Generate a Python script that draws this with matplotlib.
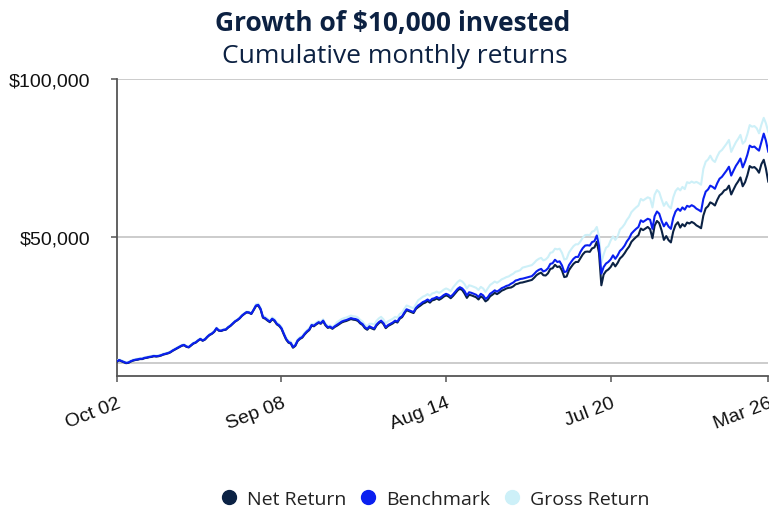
import numpy as np
import pandas as pd
import matplotlib
matplotlib.use("Agg")
import matplotlib.pyplot as plt
from matplotlib.lines import Line2D
from matplotlib.ticker import FuncFormatter

# monthly values in $ thousands, Oct 2002 .. Mar 2026
benchmark = [
    10.5, 10.9, 10.6,
    10.3, 10.0, 10.1, 10.5, 10.8, 11.0, 11.1, 11.3, 11.3, 11.6, 11.7, 11.9,
    12.0, 12.2, 12.1, 12.2, 12.4, 12.7, 12.9, 13.1, 13.4, 13.9, 14.3, 14.7,
    15.1, 15.5, 15.7, 15.2, 15.0, 15.6, 16.2, 16.5, 17.1, 17.6, 17.1, 17.5,
    18.3, 18.9, 19.3, 19.9, 21.0, 20.3, 20.2, 20.5, 20.6, 21.3, 21.8, 22.5,
    23.2, 23.6, 24.2, 25.0, 25.6, 26.1, 26.0, 25.6, 26.8, 28.2, 28.4, 27.1,
    24.5, 24.2, 23.6, 23.1, 24.0, 23.5, 22.4, 21.9, 21.0, 19.2, 17.6, 16.6,
    16.3, 15.0, 15.6, 17.1, 17.8, 18.2, 19.2, 20.0, 20.6, 22.0, 21.8, 22.4,
    22.9, 22.6, 23.4, 22.1, 21.3, 21.5, 21.0, 21.6, 22.1, 22.6, 23.1, 23.4,
    23.6, 23.9, 24.2, 24.0, 23.9, 23.6, 22.8, 22.3, 21.3, 20.8, 21.6, 21.2,
    20.9, 22.1, 22.9, 23.4, 22.6, 21.3, 22.0, 22.4, 22.8, 23.4, 23.1, 24.3,
    24.8, 25.9, 27.0, 26.7, 26.4, 26.1, 27.4, 28.2, 28.7, 29.3, 29.6, 30.1,
    29.6, 30.3, 30.5, 30.9, 30.5, 30.9, 31.5, 31.9, 31.6, 31.0, 31.7, 32.6,
    33.5, 34.0, 33.6, 32.8, 31.4, 32.4, 32.2, 31.9, 31.6, 30.9, 31.9, 31.4,
    30.3, 30.8, 31.9, 32.4, 33.0, 32.6, 33.1, 33.7, 34.0, 34.4, 34.6, 35.1,
    35.5, 36.1, 36.3, 36.6, 36.7, 36.9, 37.1, 37.3, 37.5, 38.2, 39.0, 39.5,
    39.8, 39.0, 39.3, 40.0, 41.4, 41.6, 42.7, 42.0, 42.2, 40.9, 38.8, 39.0,
    41.0, 42.0, 43.0, 43.6, 43.6, 45.2, 46.4, 47.2, 47.3, 47.2, 48.3, 48.6,
    50.4, 47.2, 38.3, 40.4, 41.5, 42.0, 42.8, 44.1, 43.0, 44.1, 45.5, 46.2,
    47.2, 48.5, 49.5, 51.0, 51.8, 52.5, 53.1, 55.2, 54.7, 55.2, 55.7, 55.4,
    52.5, 56.5, 58.0, 57.3, 55.0, 53.3, 54.5, 53.2, 52.5, 56.0, 58.0, 58.9,
    58.2, 59.3, 58.6, 59.8, 59.5, 60.0, 59.6, 58.9, 58.5, 58.0, 62.0, 64.3,
    65.0, 66.2, 65.8, 65.2, 67.0, 68.4, 69.0, 70.0, 71.0, 72.2, 69.4, 71.0,
    72.5, 73.5, 74.8, 72.0, 73.8, 76.0, 78.9, 78.4, 78.6, 77.9, 77.3, 80.0,
    82.7, 80.5, 77.0,
]

net_return = [
    10.4, 10.8, 10.5,
    10.2, 9.9, 10.0, 10.4, 10.7, 10.9, 11.0, 11.2, 11.2, 11.5, 11.6, 11.8,
    11.9, 12.1, 12.0, 12.1, 12.3, 12.6, 12.8, 13.0, 13.3, 13.8, 14.2, 14.6,
    15.0, 15.4, 15.6, 15.1, 14.9, 15.5, 16.1, 16.4, 17.0, 17.5, 17.0, 17.4,
    18.2, 18.8, 19.2, 19.8, 20.9, 20.2, 20.1, 20.4, 20.5, 21.2, 21.7, 22.4,
    23.1, 23.5, 24.1, 24.9, 25.5, 26.0, 25.9, 25.5, 26.7, 28.0, 28.2, 26.9,
    24.3, 24.0, 23.4, 22.9, 23.8, 23.3, 22.2, 21.7, 20.8, 19.0, 17.4, 16.4,
    16.1, 14.8, 15.4, 16.9, 17.6, 18.0, 19.0, 19.8, 20.4, 21.8, 21.6, 22.2,
    22.7, 22.4, 23.2, 21.9, 21.1, 21.3, 20.8, 21.4, 21.8, 22.3, 22.8, 23.1,
    23.3, 23.6, 23.9, 23.7, 23.6, 23.3, 22.5, 22.0, 21.0, 20.5, 21.3, 20.9,
    20.6, 21.8, 22.6, 23.1, 22.3, 21.0, 21.7, 22.1, 22.5, 23.1, 22.8, 24.0,
    24.5, 25.6, 26.7, 26.4, 26.1, 25.8, 27.1, 27.7, 28.2, 28.8, 29.1, 29.6,
    29.1, 29.8, 30.0, 30.4, 30.0, 30.4, 31.0, 31.4, 31.1, 30.5, 31.2, 32.1,
    33.0, 33.5, 33.1, 32.0, 30.6, 31.6, 31.4, 31.1, 30.8, 30.1, 31.1, 30.6,
    29.5, 30.0, 31.1, 31.6, 32.2, 31.8, 32.3, 32.9, 33.2, 33.6, 33.8, 33.9,
    34.3, 34.9, 35.1, 35.4, 35.5, 35.7, 35.9, 36.1, 36.3, 37.0, 37.8, 38.3,
    38.6, 37.8, 37.7, 38.4, 39.8, 40.0, 41.1, 40.4, 40.6, 39.3, 37.2, 37.4,
    39.4, 40.4, 41.4, 42.0, 42.0, 43.2, 44.4, 45.2, 45.3, 45.2, 46.3, 46.6,
    48.4, 44.9, 34.6, 38.0, 39.1, 39.6, 40.4, 41.7, 40.6, 41.7, 43.1, 43.8,
    44.8, 45.9, 46.9, 48.4, 49.2, 49.9, 50.5, 52.6, 52.1, 52.6, 53.1, 52.4,
    49.5, 53.5, 55.0, 54.3, 52.0, 49.0, 50.2, 48.9, 48.2, 51.7, 53.7, 54.6,
    52.9, 54.0, 53.3, 54.5, 54.2, 54.7, 54.3, 53.6, 53.2, 52.7, 56.7, 59.0,
    59.7, 60.9, 60.5, 59.9, 61.7, 63.1, 63.7, 64.7, 65.0, 66.2, 63.4, 65.0,
    66.5, 67.5, 68.8, 66.0, 67.3, 69.5, 72.4, 71.9, 72.1, 71.4, 70.3, 73.0,
    74.4, 71.7, 67.5,
]

gross_return = [
    10.7, 11.1, 10.8,
    10.5, 10.2, 10.3, 10.7, 11.0, 11.2, 11.3, 11.5, 11.5, 11.8, 11.9, 12.1,
    12.2, 12.4, 12.3, 12.4, 12.6, 12.9, 13.1, 13.3, 13.6, 14.1, 14.5, 14.9,
    15.3, 15.7, 15.9, 15.4, 15.2, 15.8, 16.4, 16.7, 17.3, 17.8, 17.3, 17.7,
    18.5, 19.1, 19.5, 20.1, 21.2, 20.5, 20.4, 20.7, 20.8, 21.5, 22.0, 22.7,
    23.4, 23.8, 24.4, 25.2, 25.8, 26.3, 26.2, 25.8, 27.0, 28.6, 28.8, 27.5,
    24.9, 24.6, 24.0, 23.5, 24.4, 23.9, 22.8, 22.3, 21.4, 19.6, 18.0, 17.0,
    16.7, 15.4, 16.0, 17.5, 18.2, 18.6, 19.6, 20.4, 21.0, 22.4, 22.2, 22.8,
    23.3, 23.0, 23.8, 22.5, 21.7, 21.9, 21.4, 22.0, 22.9, 23.4, 23.9, 24.2,
    24.4, 24.7, 25.0, 24.8, 24.7, 24.4, 23.6, 23.1, 22.1, 21.6, 22.4, 22.4,
    22.1, 23.3, 24.1, 24.6, 23.8, 22.5, 23.2, 23.6, 24.0, 24.6, 24.3, 25.5,
    26.0, 27.1, 28.2, 27.9, 27.6, 27.3, 28.6, 29.9, 30.4, 31.0, 31.3, 31.8,
    31.3, 32.0, 32.2, 32.6, 32.2, 32.6, 33.2, 33.6, 33.3, 32.7, 33.9, 34.8,
    35.7, 36.2, 35.8, 35.0, 33.6, 34.6, 34.4, 34.1, 33.8, 33.1, 34.1, 33.6,
    32.5, 33.6, 34.7, 35.2, 35.8, 35.4, 35.9, 36.5, 36.8, 37.2, 37.4, 37.9,
    38.3, 38.9, 39.1, 39.4, 40.2, 40.4, 40.6, 40.8, 41.0, 41.7, 42.5, 43.0,
    43.3, 42.5, 42.8, 43.5, 44.9, 45.1, 46.2, 46.0, 46.2, 44.9, 42.8, 43.0,
    45.0, 46.0, 47.0, 47.6, 47.6, 48.5, 49.7, 50.5, 50.6, 50.5, 51.6, 51.9,
    53.1, 50.2, 41.8, 44.4, 46.5, 47.0, 48.8, 50.1, 49.0, 50.1, 52.3, 53.0,
    54.0, 55.3, 56.3, 57.8, 58.6, 59.3, 59.9, 62.0, 61.5, 62.0, 62.5, 62.2,
    59.3, 63.3, 64.8, 64.1, 61.8, 59.8, 61.0, 59.7, 59.0, 62.5, 64.5, 65.4,
    64.7, 65.8, 65.1, 67.3, 67.0, 67.5, 67.1, 67.4, 67.0, 66.5, 71.5, 73.8,
    74.5, 75.7, 74.3, 73.7, 75.5, 76.9, 77.5, 78.5, 79.5, 80.7, 76.9, 78.5,
    80.0, 81.0, 82.3, 79.5, 80.3, 82.5, 85.4, 84.9, 85.1, 84.4, 82.8, 85.5,
    87.7, 86.0, 83.3,
]

dates = pd.date_range("2002-10-31", periods=len(benchmark), freq="ME")
tick_idx = [0, 71, 142, 213, 281]

navy = "#0c2142"
c_net = "#0b2244"
c_bench = "#0a1ff0"
c_gross = "#cdf0f8"

fig = plt.figure(figsize=(7.69, 5.10), dpi=100)
ax = fig.add_axes([0.152, 0.261, 0.847, 0.582])

k = 1000
ax.plot(dates, np.array(gross_return) * k, color=c_gross, lw=1.5, zorder=3)
ax.plot(dates, np.array(net_return) * k, color=c_net, lw=1.5, zorder=4)
ax.plot(dates, np.array(benchmark) * k, color=c_bench, lw=1.5, zorder=5)

ax.set_xlim(dates[0], dates[-1])
ax.set_ylim(5870, 100000)

for yv in [10000, 50000, 100000]:
    ax.axhline(yv, color="#c8c8c8", lw=1.3, zorder=1)

ax.set_yticks([50000, 100000])
ax.yaxis.set_major_formatter(FuncFormatter(lambda v, p: "${:,.0f}".format(v)))
ax.set_xticks(dates[tick_idx])
ax.set_xticklabels([d.strftime("%b %y") for d in dates[tick_idx]],
                   rotation=21, ha="right", va="top", rotation_mode="anchor")

for s in ["top", "right"]:
    ax.spines[s].set_visible(False)
for s in ["left", "bottom"]:
    ax.spines[s].set_color("#555555")
    ax.spines[s].set_linewidth(1.3)
ax.tick_params(axis="y", length=4, width=1.1, color="#555555", pad=15,
               labelsize=14, labelcolor="#111111")
ax.tick_params(axis="x", length=4, width=1.1, color="#555555", pad=9,
               labelsize=14, labelcolor="#111111")
for lab in ax.get_xticklabels() + ax.get_yticklabels():
    lab.set_fontfamily("Liberation Sans")

fig.text(0.511, 0.953, "Growth of $10,000 invested", ha="center", va="center",
         fontsize=19, fontweight="bold", color=navy, family="Open Sans")
fig.text(0.514, 0.889, "Cumulative monthly returns", ha="center", va="center",
         fontsize=19, color=navy, family="Open Sans")

handles = [
    Line2D([], [], ls="", marker="o", ms=10, color=c_net, label="Net Return"),
    Line2D([], [], ls="", marker="o", ms=10, color=c_bench, label="Benchmark"),
    Line2D([], [], ls="", marker="o", ms=10, color=c_gross, label="Gross Return"),
]
fig.legend(handles=handles, loc="center", bbox_to_anchor=(0.565, 0.02), ncol=3,
           frameon=False, handlelength=1.0, handletextpad=0.45, columnspacing=0.6,
           prop={"family": "Open Sans", "size": 14}, labelcolor="#222222")

fig.savefig("out.png", dpi=100)
